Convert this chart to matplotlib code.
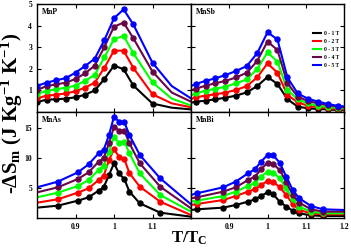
import matplotlib
matplotlib.use("Agg")
import matplotlib.pyplot as plt

plt.rcParams['font.family'] = ['Liberation Serif', 'DejaVu Serif']
plt.rcParams['font.weight'] = 'bold'
plt.rcParams['mathtext.fontset'] = 'custom'
plt.rcParams['mathtext.rm'] = 'Liberation Serif:bold'
plt.rcParams['mathtext.it'] = 'Liberation Serif:bold'
plt.rcParams['mathtext.bf'] = 'Liberation Serif:bold'

fields = ["0 - 1 T", "0 - 2 T", "0 - 3 T", "0 - 4 T", "0 - 5 T"]
colors = ["#000000", "#ff0000", "#00ff00", "#670748", "#0000ff"]

# MnP
mnp_x = [0.8, 0.825, 0.85, 0.875, 0.9, 0.925, 0.95, 0.975, 1.0, 1.025, 1.05, 1.1, 1.15, 1.2]
mnp_1 = [0.46, 0.57, 0.59, 0.62, 0.68, 0.80, 1.00, 1.53, 2.15, 1.98, 1.23, 0.39, 0.20, 0.12]
mnp_2 = [0.63, 0.76, 0.80, 0.86, 0.96, 1.13, 1.36, 2.05, 2.84, 2.84, 2.05, 0.82, 0.40, 0.22]
mnp_3 = [0.83, 0.99, 1.05, 1.13, 1.22, 1.44, 1.72, 2.53, 3.38, 3.52, 2.73, 1.37, 0.62, 0.30]
mnp_4 = [1.02, 1.20, 1.28, 1.36, 1.53, 1.79, 2.15, 3.01, 3.95, 4.14, 3.42, 1.87, 0.90, 0.48]
mnp_5 = [1.21, 1.36, 1.47, 1.57, 1.82, 2.13, 2.47, 3.33, 4.34, 4.75, 4.06, 2.28, 1.20, 0.63]

# MnSb
mnsb_x = [0.8, 0.813, 0.838, 0.864, 0.89, 0.918, 0.946, 0.973, 1.0, 1.026, 1.052, 1.079, 1.105, 1.132, 1.158, 1.185, 1.2]
mnsb_1 = [0.43, 0.48, 0.52, 0.59, 0.66, 0.76, 0.91, 1.20, 1.62, 1.30, 0.59, 0.25, 0.17, 0.14, 0.12, 0.09, 0.08]
mnsb_2 = [0.60, 0.68, 0.76, 0.82, 0.90, 1.02, 1.20, 1.60, 2.25, 1.82, 0.79, 0.45, 0.29, 0.22, 0.17, 0.14, 0.12]
mnsb_3 = [0.78, 0.86, 0.99, 1.08, 1.17, 1.33, 1.51, 1.99, 2.76, 2.33, 1.02, 0.59, 0.40, 0.29, 0.23, 0.19, 0.17]
mnsb_4 = [1.00, 1.08, 1.22, 1.33, 1.44, 1.60, 1.82, 2.36, 3.26, 2.87, 1.33, 0.71, 0.51, 0.40, 0.31, 0.25, 0.22]
mnsb_5 = [1.20, 1.30, 1.44, 1.56, 1.71, 1.90, 2.13, 2.72, 3.69, 3.36, 1.60, 0.86, 0.62, 0.48, 0.37, 0.28, 0.26]

# MnAs
mnas_x = [0.8, 0.854, 0.906, 0.934, 0.96, 0.973, 0.987, 1.0, 1.013, 1.027, 1.04, 1.067, 1.12, 1.2]
mnas_1 = [1.73, 2.06, 2.89, 3.45, 4.56, 5.12, 7.18, 9.13, 7.46, 6.46, 4.40, 2.45, 0.89, 0.22]
mnas_2 = [2.56, 3.12, 4.23, 4.95, 6.34, 7.01, 9.68, 11.46, 10.24, 9.79, 7.50, 5.23, 2.73, 0.50]
mnas_3 = [3.45, 4.23, 5.34, 6.34, 8.01, 8.68, 11.07, 13.58, 12.47, 12.74, 10.80, 7.46, 3.84, 1.06]
mnas_4 = [4.28, 5.12, 6.51, 7.62, 9.40, 9.96, 12.47, 15.25, 14.58, 14.58, 12.47, 9.13, 5.23, 1.61]
mnas_5 = [5.12, 6.07, 7.62, 8.96, 10.80, 11.35, 13.86, 16.92, 16.08, 15.97, 13.86, 10.52, 6.62, 2.28]

# MnBi
mnbi_x = [0.8, 0.815, 0.884, 0.917, 0.949, 0.967, 0.983, 1.0, 1.015, 1.032, 1.049, 1.066, 1.083, 1.114, 1.145, 1.2]
mnbi_1 = [1.34, 1.45, 1.73, 2.17, 2.73, 3.12, 3.67, 4.28, 3.95, 2.73, 1.89, 1.22, 0.78, 0.45, 0.33, 0.33]
mnbi_2 = [2.17, 2.34, 3.00, 3.67, 4.40, 4.84, 5.51, 6.18, 6.07, 5.12, 3.84, 2.34, 1.34, 0.78, 0.61, 0.61]
mnbi_3 = [2.73, 2.89, 3.67, 4.40, 5.34, 5.90, 6.90, 7.74, 7.57, 6.62, 4.95, 3.12, 1.89, 1.06, 0.78, 0.78]
mnbi_4 = [3.28, 3.45, 4.40, 5.12, 6.34, 6.90, 8.12, 9.24, 9.01, 8.01, 6.07, 3.84, 2.56, 1.45, 1.06, 1.06]
mnbi_5 = [3.84, 4.12, 5.12, 6.07, 7.46, 8.12, 9.40, 10.52, 10.46, 9.24, 6.90, 4.67, 3.28, 2.00, 1.45, 1.34]

panels = [
    ("MnP", mnp_x, [mnp_1, mnp_2, mnp_3, mnp_4, mnp_5], slice(0, 12)),
    ("MnSb", mnsb_x, [mnsb_1, mnsb_2, mnsb_3, mnsb_4, mnsb_5], slice(1, 16)),
    ("MnAs", mnas_x, [mnas_1, mnas_2, mnas_3, mnas_4, mnas_5], slice(1, 13)),
    ("MnBi", mnbi_x, [mnbi_1, mnbi_2, mnbi_3, mnbi_4, mnbi_5], slice(1, 15)),
]

W, H = 351, 249
fig = plt.figure(figsize=(W / 100, H / 100), dpi=100)

lefts = [37, 191]
widths = [154, 153]
tops = [4, 112]
heights = [108, 106]

axes = []
for i, (name, xs, series, mk) in enumerate(panels):
    r, c = divmod(i, 2)
    l = lefts[c] / W
    b = 1 - (tops[r] + heights[r]) / H
    ax = fig.add_axes([l, b, widths[c] / W, heights[r] / H])
    axes.append(ax)
    for ys, col, lab in zip(series, colors, fields):
        ax.plot(xs, ys, color=col, lw=1.5, marker='o', ms=3.6, markevery=mk,
                label=lab, clip_on=True)
    ax.set_xlim(0.8, 1.2)
    if r == 0:
        ax.set_ylim(0, 5)
        ax.set_yticks([1, 2, 3, 4, 5])
    else:
        ax.set_ylim(0, 17.7)
        ax.set_yticks([5, 10, 15])
    if c == 0:
        ax.set_xticks([0.9, 1.0, 1.1])
        ax.set_xticklabels(["0.9", "1", "1.1"])
    else:
        ax.set_xticks([0.9, 1.0, 1.1, 1.2])
        ax.set_xticklabels(["0.9", "1", "1.1", "1.2"])
    ax.tick_params(direction='in', length=3, width=0.8, top=True, right=True,
                   labelsize=5.5, pad=3.5)
    if r == 0:
        ax.tick_params(labelbottom=False)
    if c == 1:
        ax.tick_params(labelleft=False)
    for lab in ax.get_xticklabels() + ax.get_yticklabels():
        lab.set_fontweight('bold')
    for s in ax.spines.values():
        s.set_linewidth(1.0)
    ax.text(0.03, 0.96, name, transform=ax.transAxes, ha='left', va='top',
            fontsize=5.5, fontweight='bold')

leg = axes[1].legend(loc='upper right', bbox_to_anchor=(0.99, 0.78), frameon=False,
                     fontsize=4, handlelength=1.3, handletextpad=0.6,
                     labelspacing=0.55, borderaxespad=0.2)
for t in leg.get_texts():
    t.set_fontweight('bold')
for h in leg.legend_handles:
    h.set_marker('')
    h.set_linewidth(1.5)

fig.text(12 / W, 1 - 113 / H, r"-ΔS$_\mathrm{m}$ (J Kg$^{\mathrm{-1}}$ K$^{\mathrm{-1}}$)",
         rotation=90, ha='center', va='center', fontsize=15, fontweight='bold')
fig.text(189 / W, 1 - 238 / H, r"T/T$_\mathrm{C}$", ha='center', va='center',
         fontsize=12, fontweight='bold')

fig.savefig("out.png", dpi=100)
